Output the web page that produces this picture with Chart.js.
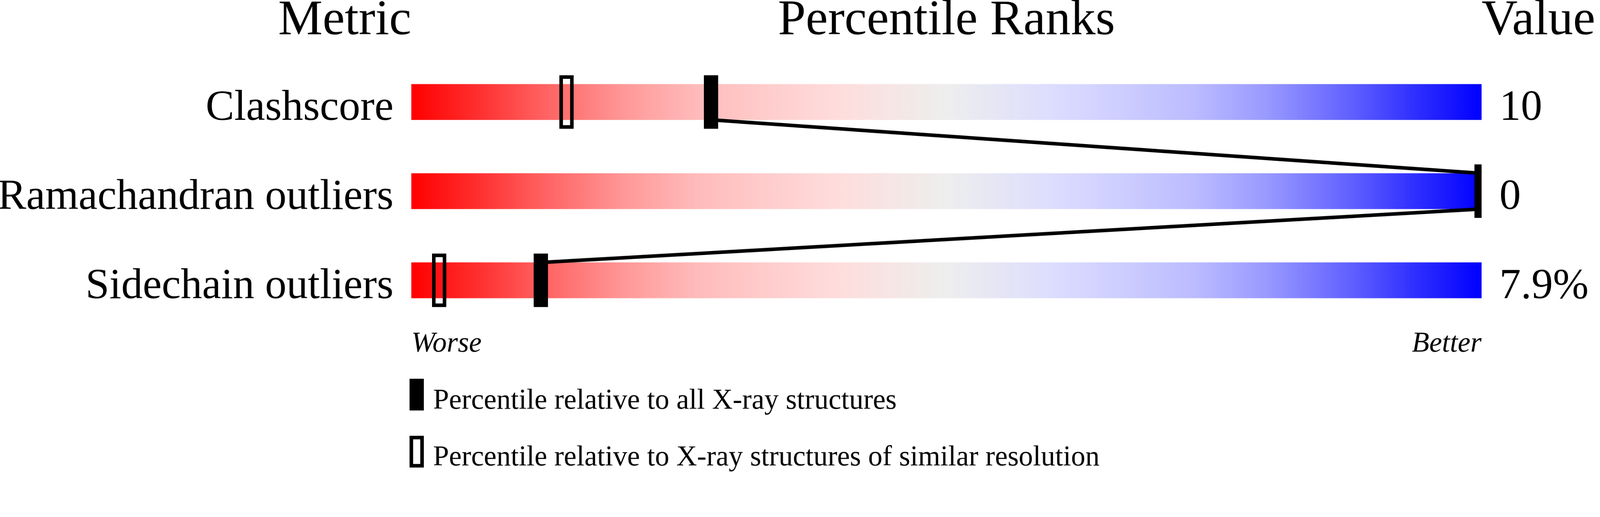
<!DOCTYPE html>
<html>
<head>
<meta charset="utf-8">
<title>Percentile Ranks</title>
<script src="https://cdn.jsdelivr.net/npm/chart.js@4"></script>
<style>
  html, body { margin: 0; padding: 0; background: #ffffff; overflow: hidden; }
  #wrap { position: relative; width: 4485px; height: 1324px; transform-origin: 0 0; }
</style>
</head>
<body>
<div id="wrap"><canvas id="ranks"></canvas></div>
<script>
/* global Chart */
// Validation slider chart: percentile ranks per metric.

var metrics = ['Clashscore', 'Ramachandran outliers', 'Sidechain outliers'];
var valueLabels = ['10', '0', '7.9%'];
var pctAllXray = [28.0, 100, 12.1];
var pctSimilarRes = [14.5, 100, 2.6];
var sliderRange = [0, 100];
var headers = ['Metric', 'Percentile Ranks', 'Value'];
var endLabels = ['Worse', 'Better'];
var legendLabels = [
  'Percentile relative to all X-ray structures',
  'Percentile relative to X-ray structures of similar resolution'
];

var SERIF = '"Liberation Serif", "Times New Roman", Times, serif';

// red -> pale -> grey -> pale -> blue, eased like the original slider
var gradientStops = [
  [0, '#ff0000'], [0.067, '#ff3333'], [0.116, '#ff5c5c'], [0.2, '#ff9999'],
  [0.267, '#ffbbbb'], [0.33, '#ffcccc'], [0.4, '#ffdddd'], [0.5, '#eeeeee'],
  [0.6, '#ddddff'], [0.67, '#ccccff'], [0.733, '#bbbbff'], [0.8, '#9999ff'],
  [0.884, '#5c5cff'], [0.933, '#3333ff'], [1, '#0000ff']
];

// the page is laid out at 4485x1324; shrink it if the viewport is smaller
var wrap = document.getElementById('wrap');
var fit = Math.min(window.innerWidth / 4485, window.innerHeight / 1324);
if (fit > 0 && fit < 0.999) {
  wrap.style.transform = 'scale(' + fit + ')';
}

/**
 * Build a small canvas used as a point style (filled or open marker).
 */
function makeMarker(w, h, filled, stroke) {
  var c = document.createElement('canvas');
  c.width = w;
  c.height = h;
  var g = c.getContext('2d');
  g.fillStyle = '#000000';
  g.fillRect(0, 0, w, h);
  if (!filled) {
    g.clearRect(stroke, stroke, w - 2 * stroke, h - 2 * stroke);
  }
  return c;
}

var markFilled = makeMarker(40, 150, true, 0);
var markOpen = makeMarker(40, 150, false, 10);

function sliderGradient(context) {
  var area = context.chart.chartArea;
  if (!area) return '#eeeeee';
  var grad = context.chart.ctx.createLinearGradient(area.left, 0, area.right, 0);
  gradientStops.forEach(function (s) { grad.addColorStop(s[0], s[1]); });
  return grad;
}

// connecting line between the "all X-ray" markers, drawn right after the sliders
var connectorPlugin = {
  id: 'connector',
  afterDatasetDraw: function (chart, args) {
    if (args.index !== 0) return;
    var bars = chart.getDatasetMeta(0).data;
    var xs = chart.scales.x;
    var ctx = chart.ctx;
    ctx.save();
    ctx.strokeStyle = '#000000';
    ctx.lineWidth = 10;
    ctx.beginPath();
    for (var i = 0; i < bars.length - 1; i++) {
      var a = bars[i].getProps(['y', 'height'], true);
      var b = bars[i + 1].getProps(['y', 'height'], true);
      ctx.moveTo(xs.getPixelForValue(pctAllXray[i]), a.y + a.height / 2);
      ctx.lineTo(xs.getPixelForValue(pctAllXray[i + 1]), b.y - b.height / 2);
    }
    ctx.stroke();
    ctx.restore();
  }
};

// headers, row labels, values, worse/better and the key underneath
var textPlugin = {
  id: 'texts',
  afterDraw: function (chart) {
    var ctx = chart.ctx;
    var area = chart.chartArea;
    var bars = chart.getDatasetMeta(0).data;
    ctx.save();
    ctx.fillStyle = '#000000';
    ctx.textBaseline = 'alphabetic';

    ctx.font = '140px ' + SERIF;
    ctx.textAlign = 'right';
    ctx.fillText(headers[0], area.left, 96);
    ctx.textAlign = 'center';
    ctx.fillText(headers[1], (area.left + area.right) / 2, 96);
    ctx.textAlign = 'left';
    ctx.fillText(headers[2], area.right, 96);

    ctx.font = '120px ' + SERIF;
    bars.forEach(function (bar, i) {
      var p = bar.getProps(['y', 'height'], true);
      var base = p.y + p.height / 2;
      ctx.textAlign = 'right';
      ctx.fillText(metrics[i], area.left - 50, base);
      ctx.textAlign = 'left';
      ctx.fillText(valueLabels[i], area.right + 50, base);
    });

    ctx.font = 'italic 80px ' + SERIF;
    ctx.textAlign = 'left';
    ctx.fillText(endLabels[0], area.left, 986);
    ctx.textAlign = 'right';
    ctx.fillText(endLabels[1], area.right, 986);

    // key
    ctx.font = '80px ' + SERIF;
    ctx.textAlign = 'left';
    ctx.fillRect(area.left - 5, 1062, 40, 89);
    ctx.fillText(legendLabels[0], area.left + 61, 1146);
    ctx.fillRect(area.left - 5, 1222, 40, 89);
    ctx.clearRect(area.left + 5, 1232, 20, 69);
    ctx.fillText(legendLabels[1], area.left + 61, 1305);
    ctx.restore();
  }
};

var ctxEl = document.getElementById('ranks');

var chart = new Chart(ctxEl, {
  type: 'bar',
  data: {
    labels: metrics,
    datasets: [
      {
        label: 'slider',
        data: metrics.map(function () { return sliderRange.slice(); }),
        backgroundColor: sliderGradient,
        borderWidth: 0,
        borderSkipped: false,
        barThickness: 100,
        order: 3
      },
      {
        type: 'scatter',
        label: legendLabels[1],
        data: metrics.map(function (m, i) { return { x: pctSimilarRes[i], y: m }; }),
        pointStyle: markOpen,
        showLine: false,
        order: 2
      },
      {
        type: 'scatter',
        label: legendLabels[0],
        data: metrics.map(function (m, i) { return { x: pctAllXray[i], y: m }; }),
        pointStyle: markFilled,
        showLine: false,
        order: 1
      }
    ]
  },
  options: {
    indexAxis: 'y',
    responsive: true,
    maintainAspectRatio: false,
    animation: false,
    events: [],
    layout: {
      padding: { left: 1153, right: 332, top: 161, bottom: 413 }
    },
    scales: {
      x: { type: 'linear', min: sliderRange[0], max: sliderRange[1], display: false },
      y: { type: 'category', labels: metrics, offset: true, display: false }
    },
    plugins: {
      legend: { display: false },
      tooltip: { enabled: false },
      title: { display: false }
    }
  },
  plugins: [connectorPlugin, textPlugin]
});
</script>
</body>
</html>
